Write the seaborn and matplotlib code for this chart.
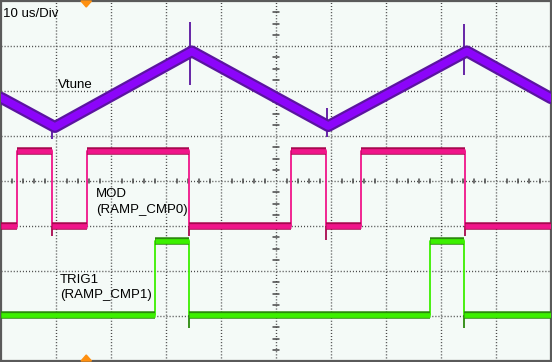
import matplotlib
matplotlib.use("Agg")
import matplotlib.pyplot as plt
import seaborn as sns
import pandas as pd
from matplotlib.patches import Polygon

# ---------------- data (time in us, amplitude in divisions, 0 = bottom) ----
vtune_t = [0.0, 9.8, 34.7, 59.5, 84.7, 100.0]
vtune_v = [5.85, 5.20, 6.88, 5.22, 6.88, 5.84]
# glitches on Vtune: time, from, to
vtune_spike_t = [34.4, 84.2, 9.3, 59.3]
vtune_spike_lo = [6.13, 6.36, 4.93, 4.97]
vtune_spike_hi = [7.53, 7.49, 5.25, 5.62]

mod_edges = [2.9, 9.3, 15.6, 34.2, 52.7, 59.1, 65.5, 84.4]
mod_low, mod_high = 3.0, 4.67
mod_spike_t = [9.3, 34.2, 59.1, 84.4]
mod_spike_lo = [2.78, 2.78, 2.70, 2.78]

trig_edges = [28.0, 34.2, 78.0, 84.2]
trig_low, trig_high = 1.02, 2.67
trig_spike_t = [34.2, 84.2]
trig_spike_lo = [0.73, 0.73]

trigger_pos = 15.5  # orange marker position (us)

labels = ["Vtune", "MOD", "(RAMP_CMP0)", "TRIG1", "(RAMP_CMP1)"]
timebase = "10 us/Div"

# ---------------- figure ----------------
W, H = 552, 362
sns.set_theme(style="white")
plt.rcParams['font.family'] = ['Liberation Sans', 'DejaVu Sans']
fig = plt.figure(figsize=(W / 100, H / 100), dpi=100)
fig.patch.set_facecolor("#f4faf7")
ax = fig.add_axes([1 / W, 1 / H, 550 / W, 360 / H])
ax.set_facecolor("#f4faf7")
ax.set_xlim(0, 100)
ax.set_ylim(0, 8)
ax.set_xticks([])
ax.set_yticks([])
for s in ax.spines.values():
    s.set_color("#5a5a5a")
    s.set_linewidth(1.6)

grid_c = "#474747"
for gx in range(10, 100, 10):
    ax.axvline(gx, color=grid_c, lw=1.0, dashes=(0.75, 1.45), zorder=1)
for gy in range(1, 8):
    ax.axhline(gy, color=grid_c, lw=1.0, dashes=(0.75, 1.45), zorder=1)
# center minor ticks
for i in range(1, 50):
    tx = i * 2.0
    if i % 5:
        ax.plot([tx, tx], [4 - 0.05, 4 + 0.05], color=grid_c, lw=1.1, zorder=1)
for i in range(1, 32):
    ty = i * 0.25
    if i % 4:
        ax.plot([50 - 0.5, 50 + 0.5], [ty, ty], color=grid_c, lw=1.1, zorder=1)


def step_trace(edges, low, high):
    t, v = [0.0], [low]
    lvl = low
    segs = []
    start = 0.0
    for e in edges:
        segs.append((start, e, lvl))
        t.append(e); v.append(lvl)
        lvl = high if lvl == low else low
        t.append(e); v.append(lvl)
        start = e
    t.append(100.0); v.append(lvl)
    segs.append((start, 100.0, lvl))
    return t, v, segs


def draw_step(edges, low, high, bright, dark, sp_t, sp_lo):
    t, v, segs = step_trace(edges, low, high)
    df = pd.DataFrame({"t": t, "v": v})
    sns.lineplot(data=df, x="t", y="v", sort=False, estimator=None,
                 color=bright, lw=1.3, ax=ax, zorder=3)
    ax.vlines(sp_t, sp_lo, low, colors=dark, lw=1.3, zorder=3)
    ax.hlines([s[2] for s in segs], [s[0] for s in segs], [s[1] for s in segs],
              colors=dark, lw=5.4, capstyle="butt", zorder=4)
    ax.hlines([s[2] for s in segs], [s[0] for s in segs], [s[1] for s in segs],
              colors=bright, lw=3.4, capstyle="butt", zorder=5)


draw_step(mod_edges, mod_low, mod_high, "#f0158a", "#a8084f",
          mod_spike_t, mod_spike_lo)
draw_step(trig_edges, trig_low, trig_high, "#3cf000", "#2a8a0c",
          trig_spike_t, trig_spike_lo)

vdf = pd.DataFrame({"t": vtune_t, "v": vtune_v})
ax.vlines(vtune_spike_t, vtune_spike_lo, vtune_spike_hi, colors="#5b14a0",
          lw=1.3, zorder=5)
sns.lineplot(data=vdf, x="t", y="v", sort=False, estimator=None,
             color="#5b14a0", lw=8.6, ax=ax, zorder=6)
sns.lineplot(data=vdf, x="t", y="v", sort=False, estimator=None,
             color="#8c05fa", lw=5.4, ax=ax, zorder=7)
ax.set_xlabel("")
ax.set_ylabel("")
ax.set_xlim(0, 100)
ax.set_ylim(0, 8)

# orange trigger markers
tri_w = 0.95
ax.add_patch(Polygon([[trigger_pos - tri_w, 1.0], [trigger_pos + tri_w, 1.0],
                      [trigger_pos, 1.0 - 6 / 360]], closed=True,
                     transform=ax.get_xaxis_transform(), color="#ff9010",
                     clip_on=False, zorder=10))
ax.add_patch(Polygon([[trigger_pos - tri_w, 0.0], [trigger_pos + tri_w, 0.0],
                      [trigger_pos, 6 / 360]], closed=True,
                     transform=ax.get_xaxis_transform(), color="#ff9010",
                     clip_on=False, zorder=10))


def px(x, y):
    return x / W, 1 - y / H


fs = 9.5
fig.text(*px(3, 17), timebase, fontsize=fs, va="baseline", color="black")
fig.text(*px(58, 88), labels[0], fontsize=fs, va="baseline", color="black")
fig.text(*px(96, 197), labels[1], fontsize=fs, va="baseline", color="black")
fig.text(*px(96, 213), labels[2], fontsize=fs, va="baseline", color="black")
fig.text(*px(60, 283), labels[3], fontsize=fs, va="baseline", color="black")
fig.text(*px(60, 298), labels[4], fontsize=fs, va="baseline", color="black")

fig.savefig("out.png", dpi=100, facecolor=fig.get_facecolor())
